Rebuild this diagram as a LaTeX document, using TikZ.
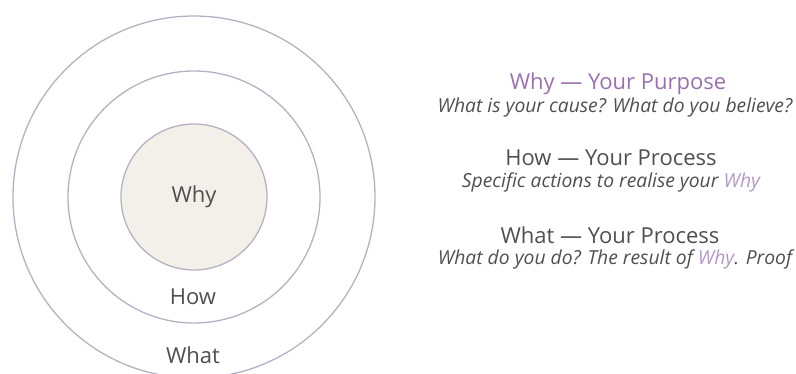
\documentclass[tikz,border=0pt]{standalone}
\usepackage{fontspec}
\setmainfont{Open Sans}
\usepackage{tikz}
\usetikzlibrary{positioning}
\definecolor{ringline}{HTML}{B7B0C4}
\definecolor{corefill}{HTML}{F3F0EA}
\definecolor{txtgray}{HTML}{4F4F4F}
\definecolor{whypurple}{HTML}{9A70B3}
\definecolor{whylight}{HTML}{B398C8}
\tikzset{
  ring/.style={circle,draw=ringline,line width=1.3pt,inner sep=0pt},
  ringlabel/.style={font=\fontsize{22}{26}\selectfont,text=txtgray,inner sep=0pt},
  headline/.style={font=\fontsize{22}{26}\selectfont,text=txtgray,inner sep=0pt},
  subline/.style={font=\itshape\fontsize{19.3}{23}\selectfont,text=txtgray,inner sep=0pt},
}
\begin{document}
\begin{tikzpicture}[x=1pt,y=-1pt]
    \useasboundingbox (0,0) rectangle (796,374);
    \coordinate (centre) at (194,197);
    % the three rings
    \node[ring,minimum size=362pt] (what ring) at (centre) {};
    \node[ring,minimum size=252pt] (how ring) at (centre) {};
    \node[ring,fill=corefill,minimum size=146pt] (why ring) at (centre) {};
    \node[ringlabel] (why) at (centre) {Why};
    \node[ringlabel] (how) at (193,297) {How};
    \node[ringlabel] (what) at (193,355) {What};
    % explanations
    \node[headline,text=whypurple] (why head) at (618,84) {Why — Your Purpose};
    \node[subline] (why sub) at (615,107) {What is your cause? What do you believe?};
    \node[headline] (how head) at (611,158) {How — Your Process};
    \node[subline] (how sub) at (611,182) {Specific actions to realise your \textcolor{whylight}{Why}};
    \node[headline] (what head) at (610,235) {What — Your Process};
    \node[subline] (what sub) at (615,259) {What do you do? The result of \textcolor{whylight}{Why}. Proof};
\end{tikzpicture}
\end{document}
